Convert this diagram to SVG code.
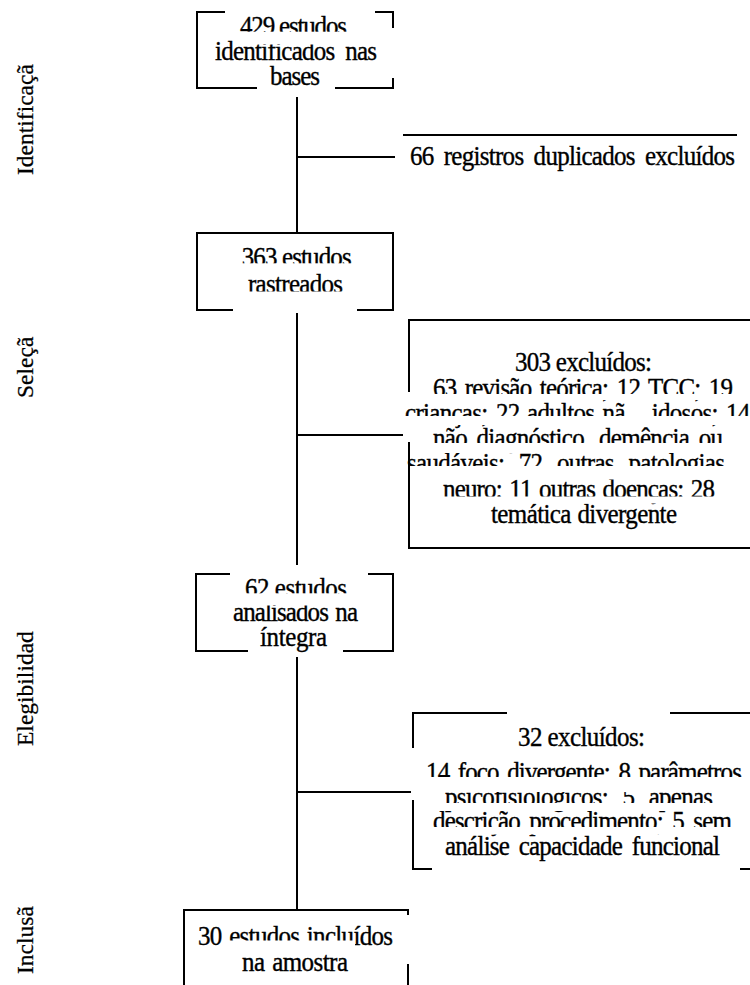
<svg xmlns="http://www.w3.org/2000/svg" width="750" height="985" viewBox="0 0 750 985">
<style>
text{font-family:"Liberation Serif","Times New Roman",serif;font-size:25px;fill:#000;stroke:#000;stroke-width:0.35}
.p{font-size:23.5px;stroke-width:0.25}
.m{text-anchor:middle}
.b{fill:none;stroke:#000;stroke-width:2}
.w{fill:#fff}
.c{fill:none;stroke:#000;stroke-width:2}
</style>
<rect width="750" height="985" fill="#fff"/>
<g id="phases">
<text class="p" transform="translate(32.5,175) rotate(-90)">Identificaçã</text>
<text class="p" transform="translate(32.5,398) rotate(-90)">Seleçã</text>
<text class="p" transform="translate(32.5,746) rotate(-90)">Elegibilidad</text>
<text class="p" transform="translate(32.5,974) rotate(-90)">Inclusã</text>
</g>
<g id="connectors">
<path class="c" d="M297,97 V233"/>
<path class="c" d="M297,157 H395"/>
<path class="c" d="M297,313 V565"/>
<path class="c" d="M297,435 H403"/>
<path class="c" d="M297,657 V910"/>
<path class="c" d="M297,792 H411"/>
</g>
<g id="n1">
<text class="m" transform="translate(293.5,34.5) scale(1,1.07)" textLength="107" lengthAdjust="spacing">429 estudos</text>
<text class="m" transform="translate(296,59.5) scale(1,1.07)" word-spacing="5" textLength="162" lengthAdjust="spacing">identificados nas</text>
<text class="m" transform="translate(295,85) scale(1,1.07)" textLength="50" lengthAdjust="spacing">bases</text>
<rect class="w" x="228" y="31.7" width="144" height="6"/>
<rect class="w" x="250" y="37.5" width="88" height="7"/>
<path class="b" d="M225,12 H197 V88 H257"/>
<path class="b" d="M375,12 H393 V28"/>
<path class="b" d="M393,78 V88 H335"/>
</g>
<g id="x1">
<path class="b" d="M403,135 H737"/>
<text transform="translate(410,165) scale(1,1.07)" word-spacing="4.7" textLength="325" lengthAdjust="spacing">66 registros duplicados excluídos</text>
</g>
<g id="n2">
<text class="m" transform="translate(296.7,266) scale(1,1.07)" textLength="110" lengthAdjust="spacing">363 estudos</text>
<text class="m" transform="translate(295.5,293) scale(1,1.07)" textLength="95" lengthAdjust="spacing">rastreados</text>
<rect class="w" x="228" y="263.3" width="134" height="8.5"/>
<rect class="w" x="240" y="291.5" width="110" height="5"/>
<path class="b" d="M233,310 H197 V233 H393 V310 H357"/>
</g>
<g id="x2">
<text transform="translate(515,371) scale(1,1.07)" textLength="137" lengthAdjust="spacing">303 excluídos:</text>
<text transform="translate(433,396.5) scale(1,1.07)" word-spacing="3" textLength="300" lengthAdjust="spacing">63 revisão teórica; 12 TCC; 19</text>
<text transform="translate(0,421.8) scale(1,1.07)" letter-spacing="-0.7"><tspan x="405">crianças;</tspan><tspan x="496">22</tspan><tspan x="527">adultos</tspan><tspan x="602.6">nã</tspan><tspan x="651.8">idosos;</tspan><tspan x="726">14</tspan></text>
<text transform="translate(433,447) scale(1,1.07)" word-spacing="4" textLength="290" lengthAdjust="spacing">não diagnóstico, demência ou</text>
<text transform="translate(407,472.4) scale(1,1.07)" word-spacing="9" textLength="318" lengthAdjust="spacing">saudáveis; 72 outras patologias</text>
<text transform="translate(443,497.7) scale(1,1.07)" word-spacing="2" textLength="272" lengthAdjust="spacing">neuro; 11 outras doenças; 28</text>
<text transform="translate(491,523) scale(1,1.07)" word-spacing="1" textLength="186" lengthAdjust="spacing">temática divergente</text>
<rect class="w" x="400" y="394" width="350" height="6"/>
<rect class="w" x="400" y="416" width="350" height="9"/>
<rect class="w" x="400" y="443" width="350" height="10"/>
<rect class="w" x="400" y="466" width="350" height="13.5"/>
<rect class="w" x="400" y="496.5" width="350" height="7"/>
<path class="b" d="M752,320 H409 V392"/>
<path class="b" d="M409,442 V548 H752"/>
</g>
<g id="n3">
<text class="m" transform="translate(296,596.5) scale(1,1.07)" textLength="102" lengthAdjust="spacing">62 estudos</text>
<text class="m" transform="translate(295.5,621) scale(1,1.07)" word-spacing="2" textLength="125" lengthAdjust="spacing">analisados na</text>
<text class="m" transform="translate(293.5,646) scale(1,1.07)" textLength="67" lengthAdjust="spacing">íntegra</text>
<rect class="w" x="230" y="593.3" width="138" height="12.2"/>
<path class="b" d="M230,574 H196 V651 H248"/>
<path class="b" d="M368,574 H393 V651 H343"/>
</g>
<g id="x3">
<text transform="translate(518,746) scale(1,1.07)" textLength="127" lengthAdjust="spacing">32 excluídos:</text>
<text transform="translate(426,780.5) scale(1,1.07)" word-spacing="3" textLength="316" lengthAdjust="spacing">14 foco divergente; 8 parâmetros</text>
<text transform="translate(445,806) scale(1,1.07)" word-spacing="9" textLength="268" lengthAdjust="spacing">psicofisiológicos; 5 apenas</text>
<text transform="translate(433,830) scale(1,1.07)" word-spacing="4" textLength="299" lengthAdjust="spacing">descrição procedimento; 5 sem</text>
<text transform="translate(445,855) scale(1,1.07)" word-spacing="4" textLength="275" lengthAdjust="spacing">análise capacidade funcional</text>
<rect class="w" x="415" y="777" width="335" height="15"/>
<rect class="w" x="415" y="803" width="335" height="8"/>
<rect class="w" x="415" y="827" width="335" height="7.5"/>
<path class="b" d="M507,713 H413 V748"/>
<path class="b" d="M670,713 H752"/>
<path class="b" d="M413,800 V869 H432"/>
<path class="b" d="M740,869 H752"/>
</g>
<g id="n4">
<text class="m" transform="translate(295.5,944.5) scale(1,1.07)" word-spacing="2" textLength="195" lengthAdjust="spacing">30 estudos incluídos</text>
<text class="m" transform="translate(295,971) scale(1,1.07)" word-spacing="2" textLength="106" lengthAdjust="spacing">na amostra</text>
<rect class="w" x="226" y="940.5" width="129" height="7"/>
<path class="b" d="M184,990 V910 H408 V915"/>
<path class="b" d="M408,964 V990"/>
</g>
</svg>
